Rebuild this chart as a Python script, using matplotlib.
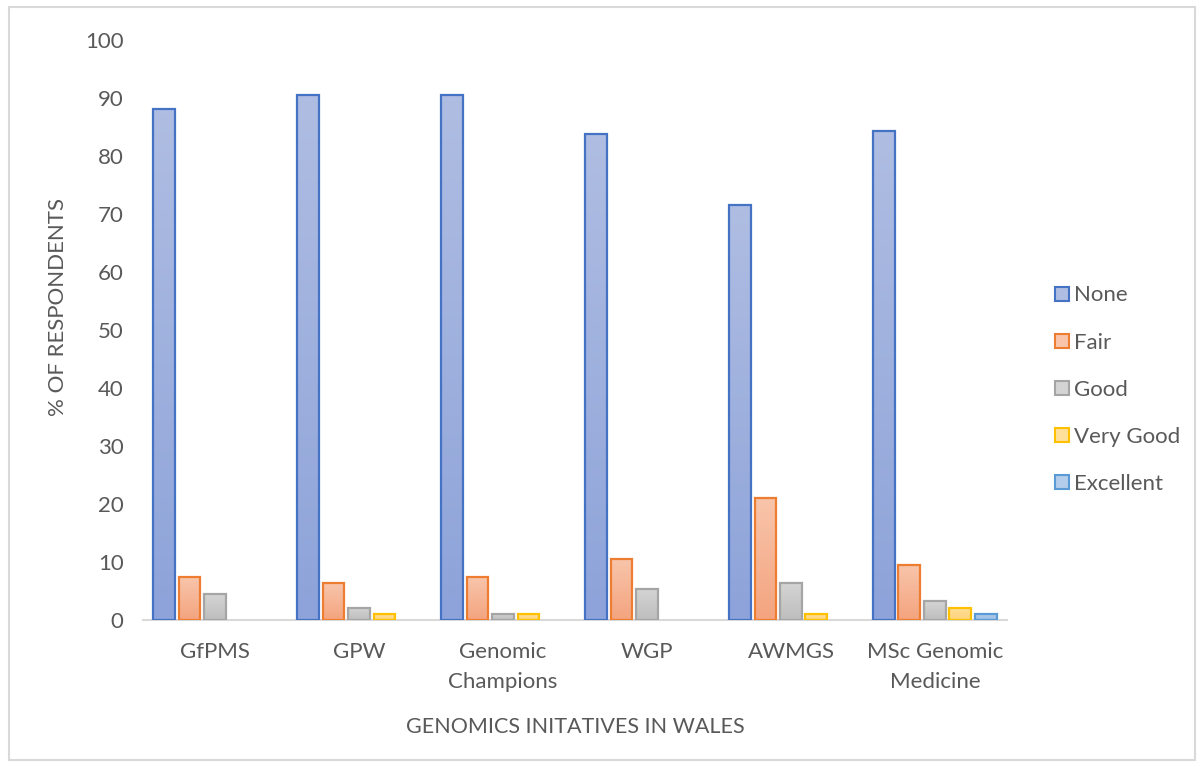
import numpy as np
import matplotlib
matplotlib.use('Agg')
from matplotlib import pyplot as plt
from matplotlib.colors import LinearSegmentedColormap
from matplotlib.patches import Rectangle, Patch

# %% Data.
categories = ['GfPMS', 'GPW', 'Genomic\nChampions', 'WGP', 'AWMGS',
              'MSc Genomic\nMedicine']
series = ['None', 'Fair', 'Good', 'Very Good', 'Excellent']
v_none = [88.2, 90.6, 90.6, 83.9, 71.6, 84.3]
v_fair = [7.4, 6.3, 7.4, 10.6, 21.1, 9.5]
v_good = [4.4, 2.1, 1.1, 5.3, 6.3, 3.2]
v_vgood = [0, 1.1, 1.1, 0, 1.1, 2.1]
v_exc = [0, 0, 0, 0, 0, 1.1]
y_ticks = list(range(0, 101, 10))

# %% Styles.
edge_c = ['#4472C4', '#ED7D31', '#A5A5A5', '#FFC000', '#5B9BD5']
top_c = ['#AFBDE2', '#F8C5AB', '#D4D4D4', '#FFE09A', '#B3CDEA']
bot_c = ['#8DA3D9', '#F4A47F', '#BEBEBE', '#FFD37A', '#9DBFE6']
txt_c = '#595959'
fs = 16
plt.rcParams['font.family'] = ['Lato', 'DejaVu Sans']

# %% Figure.
fig = plt.figure(figsize=(12.03, 7.67), dpi=100)
ax = fig.add_axes([0.1189, 0.1917, 0.7181, 0.7555])

l_vals = [v_none, v_fair, v_good, v_vgood, v_exc]
x = np.arange(len(categories))
pitch = 0.177
width = 0.152
grad = np.linspace(0, 1, 64).reshape(-1, 1)

for i, vals in enumerate(l_vals):
    xs = x + (i - 2) * pitch
    cmap = LinearSegmentedColormap.from_list('g%d' % i, [top_c[i], bot_c[i]])
    bars = ax.bar(xs, vals, width, color=bot_c[i], edgecolor='none', zorder=2)
    for b in bars:
        if b.get_height() <= 0:
            continue
        x0 = b.get_x()
        im = ax.imshow(grad, cmap=cmap, aspect='auto', zorder=3,
                       extent=[x0, x0 + width, 0, b.get_height()],
                       interpolation='bilinear')
        im.set_clip_path(b)
    # Outline only for the non-zero bars:
    lws = [1.6 if v > 0 else 0 for v in vals]
    ax.bar(xs, vals, width, fill=False, edgecolor=edge_c[i], linewidth=lws,
           zorder=4)

ax.set_xlim(-0.5, len(categories) - 0.5)
ax.set_ylim(0, 100)
ax.set_yticks(y_ticks)
ax.set_xticks(x)
ax.set_xticklabels(categories, linespacing=1.6)

# Axis:
for s in ['top', 'right', 'left']:
    ax.spines[s].set_visible(False)
ax.spines['bottom'].set_color('#D9D9D9')
ax.spines['bottom'].set_linewidth(1.5)
ax.tick_params(axis='both', length=0, labelsize=fs, labelcolor=txt_c)
ax.tick_params(axis='y', pad=14)
ax.tick_params(axis='x', pad=16)
ax.set_xlabel('GENOMICS INITATIVES IN WALES', fontsize=15.5, color=txt_c)
ax.set_ylabel('% OF RESPONDENTS', fontsize=fs, color=txt_c)
ax.xaxis.set_label_coords(0.5, -0.167)
ax.yaxis.set_label_coords(-0.087, 0.54)

# Legend:
handles = [Patch(facecolor=top_c[i], edgecolor=edge_c[i], linewidth=1.5)
           for i in range(len(series))]
fig.legend(handles, series, loc='center left', bbox_to_anchor=(0.868, 0.492),
           frameon=False, fontsize=fs, labelcolor=txt_c, handlelength=0.6,
           handleheight=0.6, handletextpad=0.25, labelspacing=1.22,
           borderpad=0)

# Border:
fig.patches.append(Rectangle((9 / 1203, 7 / 767), 1186 / 1203, 753 / 767,
                             transform=fig.transFigure, fill=False,
                             edgecolor='#D9D9D9', linewidth=1.5))

fig.savefig('out.png', dpi=100)
